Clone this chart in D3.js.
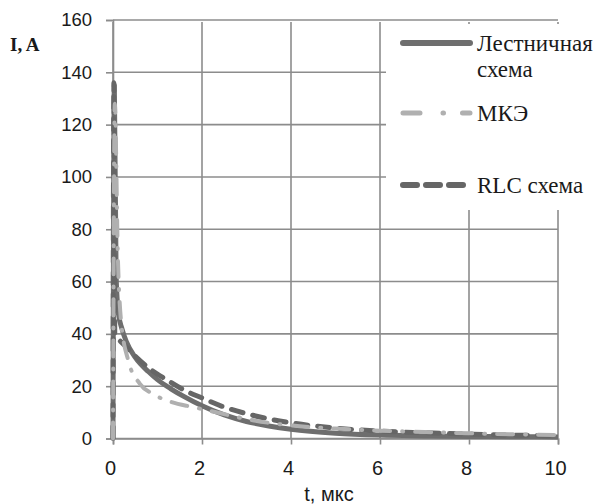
<!DOCTYPE html>
<html>
<head>
<meta charset="utf-8">
<script src="https://cdn.jsdelivr.net/npm/d3@7"></script>
<style>
  body { margin: 0; background: #fff; }
  svg { display: block; }
</style>
</head>
<body>
<svg id="chart" width="604" height="504"></svg>
<script>
// series (t in мкс, I in A)
const tLadder = [0, 0.03, 0.07, 0.12, 0.2, 0.3, 0.5, 0.8, 1, 1.3, 1.6, 2, 2.5, 3, 3.5, 4, 5, 6, 7, 8, 9, 10];
const iLadder = [0, 135, 62, 48, 42, 37, 31, 25.5, 22.5, 19, 16, 12.5, 9, 6.5, 4.8, 3.5, 2, 1.3, 1, 0.8, 0.7, 0.6];

const tMke = [0, 0.04, 0.11, 0.18, 0.34, 0.6, 0.9, 1.3, 1.8, 2.2, 2.7, 3.5, 4, 5, 6, 7, 8, 9, 10];
const iMke = [0, 128, 69, 45, 30, 21, 17, 14, 12, 10.5, 8.5, 6, 5, 3.8, 3, 2.5, 2, 1.6, 1.3];

const tRlc = [0, 0.02, 0.04, 0.1, 0.3, 0.5, 0.8, 1.2, 1.6, 2, 2.5, 3, 3.5, 4, 5, 6, 7, 8, 9, 10];
const iRlc = [0, 136, 40, 38.5, 35, 31.5, 27, 22.5, 18.5, 15.5, 12, 9.5, 7.5, 6, 4, 2.8, 2.2, 1.7, 1.3, 1];

const xTicks = [0, 2, 4, 6, 8, 10];
const yTicks = [0, 20, 40, 60, 80, 100, 120, 140, 160];
const legendNames = ["Лестничная", "схема", "МКЭ", "RLC схема"];

const svg = d3.select("#chart");
const x = d3.scaleLinear().domain([0, 10]).range([113, 558]);
const y = d3.scaleLinear().domain([0, 160]).range([438.5, 20]);
const gridColor = "#8c8c8c";

// grid
svg.append("g").selectAll("line.h").data(yTicks).join("line")
  .attr("x1", x(0)).attr("x2", x(10))
  .attr("y1", d => y(d)).attr("y2", d => y(d))
  .attr("stroke", gridColor).attr("stroke-width", 1.6);
svg.append("g").selectAll("line.v").data(xTicks).join("line")
  .attr("x1", d => x(d)).attr("x2", d => x(d))
  .attr("y1", y(0)).attr("y2", y(160) + 2)
  .attr("stroke", gridColor).attr("stroke-width", 1.6);

// axes
const yAxis = svg.append("g").attr("transform", `translate(${x(0)},0)`)
  .call(d3.axisLeft(y).tickValues(yTicks).tickSize(7).tickPadding(14));
const xAxis = svg.append("g").attr("transform", `translate(0,${y(0)})`)
  .call(d3.axisBottom(x).tickValues(xTicks).tickSize(6).tickPadding(16));
[yAxis, xAxis].forEach(g => {
  g.select(".domain").attr("stroke", gridColor).attr("stroke-width", 1.6);
  g.selectAll(".tick line").attr("stroke", gridColor).attr("stroke-width", 1.6);
  g.selectAll(".tick text").attr("fill", "#1a1a1a").attr("font-family", "Liberation Sans, Arial, sans-serif");
});
yAxis.selectAll(".tick text").attr("font-size", 18.5);
xAxis.selectAll(".tick text").attr("font-size", 20).attr("dx", -3);

// series
const line = d3.line().x(d => x(d[0])).y(d => y(d[1])).curve(d3.curveMonotoneX);
const series = [
  { t: tLadder, v: iLadder, color: "#6e6e6e", width: 5, dash: null, legendDash: null },
  { t: tRlc, v: iRlc, color: "#666666", width: 5, dash: "12,10", legendDash: "14,9" },
  { t: tMke, v: iMke, color: "#b0b0b0", width: 4, dash: "16,12,1,12", legendDash: "17,23,0.5,19" }
];
series.forEach(s => {
  svg.append("path")
    .datum(s.t.map((t, i) => [t, s.v[i]]))
    .attr("fill", "none")
    .attr("stroke", s.color)
    .attr("stroke-width", s.width)
    .attr("stroke-linecap", s.dash ? "round" : "butt")
    .attr("stroke-linejoin", "round")
    .attr("stroke-dasharray", s.dash)
    .attr("d", line);
});

// legend
const lg = svg.append("g");
lg.append("rect").attr("x", 386).attr("y", 24).attr("width", 218).attr("height", 186).attr("fill", "#fff");
const legendRows = [
  { y: 43, s: series[0], labels: [legendNames[0], legendNames[1]] },
  { y: 113, s: series[2], labels: [legendNames[2]] },
  { y: 185, s: series[1], labels: [legendNames[3]] }
];
legendRows.forEach(r => {
  lg.append("line")
    .attr("x1", 403).attr("x2", 470).attr("y1", r.y).attr("y2", r.y)
    .attr("stroke", r.s.color).attr("stroke-width", r.s.width + 1)
    .attr("stroke-linecap", "round")
    .attr("stroke-dasharray", r.s.legendDash);
  r.labels.forEach((lab, i) => {
    lg.append("text")
      .attr("x", 477).attr("y", r.y + 8 + i * 26)
      .attr("font-family", "Liberation Serif, Times New Roman, serif")
      .attr("font-size", 23).attr("fill", "#1a1a1a")
      .text(lab);
  });
});

// axis titles
svg.append("text").attr("x", 10).attr("y", 51)
  .attr("font-family", "Liberation Serif, Times New Roman, serif")
  .attr("font-weight", "bold").attr("font-size", 19).attr("fill", "#1a1a1a")
  .text("I, A");
svg.append("text").attr("x", 329).attr("y", 501).attr("text-anchor", "middle")
  .attr("font-family", "Liberation Sans, Arial, sans-serif")
  .attr("font-size", 20).attr("fill", "#1a1a1a")
  .text("t, мкс");
</script>
</body>
</html>
